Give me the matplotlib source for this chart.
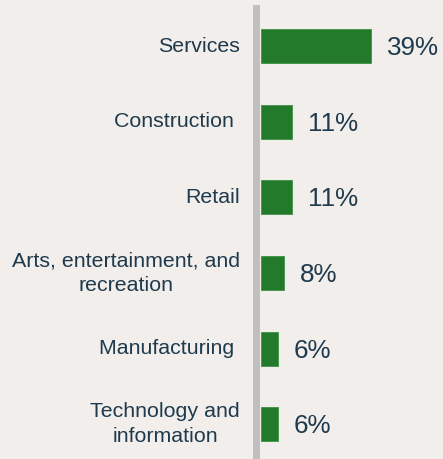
import matplotlib.pyplot as plt

plt.rcParams['font.family'] = ['Liberation Sans', 'DejaVu Sans']

# 行业分布
categories = ['Services', 'Construction ', 'Retail', 'Arts, entertainment, and\nrecreation',
              'Manufacturing ', 'Technology and\ninformation']
shares = [39, 11, 11, 8, 6, 6]

bg = '#f1eeeb'
green = '#237a2b'
text_col = '#1f3a4d'

W, H = 443, 459
fig = plt.figure(figsize=(W / 100, H / 100), dpi=100, facecolor=bg)
ax = fig.add_axes([261 / W, -3 / H, (W - 261) / W, 453.6 / H], facecolor=bg)

ypos = list(range(len(categories)))
ax.barh(ypos, shares, height=0.45, color=green, edgecolor='#3d9146', linewidth=0.6)

# 数值标签
for y, v in zip(ypos, shares):
    ax.annotate(f'{v}%', xy=(v, y), xytext=(11.5, -1.5), textcoords='offset points',
                ha='left', va='center', fontsize=18.7, color=text_col)

# 类别标签（多行居中）
for y, c in zip(ypos, categories):
    ax.annotate(c, xy=(0, y), xycoords=('axes fraction', 'data'),
                xytext=(-15, 0), textcoords='offset points',
                ha='right', va='center', multialignment='center',
                fontsize=15.4, color=text_col, linespacing=1.38)

ax.set_xlim(0, (W - 261) / 2.82)
ax.set_ylim(len(categories) - 0.5, -0.5)
ax.set_yticks([])
ax.set_xticks([])

for s in ['top', 'right', 'bottom']:
    ax.spines[s].set_visible(False)
ax.spines['left'].set_color('#c0bfbd')
ax.spines['left'].set_linewidth(5)
ax.spines['left'].set_position(('outward', 3.5))

plt.savefig('out.png', dpi=100, facecolor=bg)
